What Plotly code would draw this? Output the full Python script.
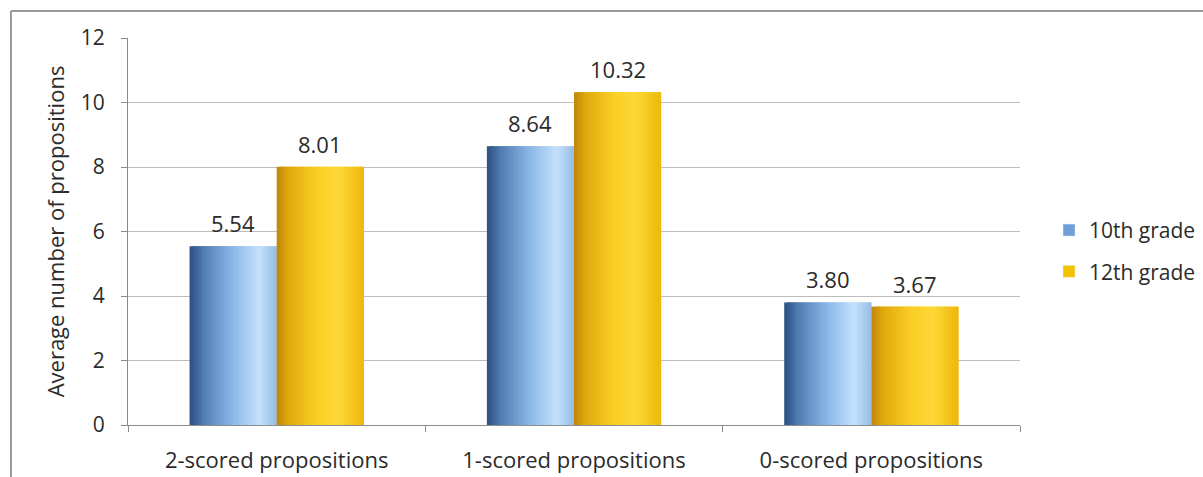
import plotly.graph_objects as go

categories = ["2-scored propositions", "1-scored propositions", "0-scored propositions"]
grade10 = [5.54, 8.64, 3.80]
grade12 = [8.01, 10.32, 3.67]
series_names = ["10th grade", "12th grade"]
y_ticks = [0, 2, 4, 6, 8, 10, 12]

FONT = "Open Sans"
TXT = "#2b2b2b"
BAR_W = 0.293
N = 30
PLOT_W = 1203 - 128 - 183

blue_stops = [(0.0, (42, 78, 126)), (0.15, (78, 122, 176)), (0.5, (140, 184, 232)),
              (0.8, (196, 225, 252)), (1.0, (150, 188, 228))]
yellow_stops = [(0.0, (190, 134, 12)), (0.12, (222, 166, 12)), (0.45, (249, 206, 36)),
                (0.7, (253, 216, 56)), (1.0, (238, 184, 10))]


def interp(stops, t):
    for (t0, c0), (t1, c1) in zip(stops[:-1], stops[1:]):
        if t0 <= t <= t1:
            f = (t - t0) / (t1 - t0) if t1 > t0 else 0
            c = [round(a + (b - a) * f) for a, b in zip(c0, c1)]
            return "rgb(%d,%d,%d)" % tuple(c)
    c = stops[-1][1]
    return "rgb(%d,%d,%d)" % c


fig = go.Figure()
w = BAR_W / N
for vals, stops, start in [(grade10, blue_stops, -BAR_W), (grade12, yellow_stops, 0.0)]:
    for i in range(N):
        t = (i + 0.5) / N
        width = w * 2 if i < N - 1 else w
        fig.add_trace(go.Bar(
            x=categories, y=vals, width=width, offset=start + i * w,
            marker=dict(color=interp(stops, t), line=dict(width=0)),
            showlegend=False, hoverinfo="skip"))

# legend entries
for k, (name, col) in enumerate(zip(series_names, ["#6f9fd8", "#f2c200"])):
    fig.add_trace(go.Bar(x=[None], y=[None], name=name, legendgroup=f"g{k}",
                         marker=dict(color=col)))

annotations = []
half_px = BAR_W / 2 * PLOT_W / len(categories)
for vals, sign in [(grade10, -1), (grade12, 1)]:
    for cat, v in zip(categories, vals):
        annotations.append(dict(
            x=cat, y=v, xref="x", yref="y", text=f"{v:.2f}", showarrow=False,
            xshift=sign * half_px, yshift=23,
            font=dict(family=FONT, size=22, color=TXT)))

fig.update_layout(
    width=1203, height=477,
    margin=dict(l=128, r=183, t=38, b=52, autoexpand=False),
    barmode="overlay",
    paper_bgcolor="white", plot_bgcolor="white",
    font=dict(family=FONT, size=21, color=TXT),
    legend=dict(x=0.872, y=0.474, xref="container", yref="container",
                xanchor="left", yanchor="middle",
                font=dict(family=FONT, size=21, color=TXT),
                itemwidth=30, tracegroupgap=11, bgcolor="rgba(0,0,0,0)"),
    annotations=annotations,
    shapes=[dict(type="line", xref="paper", yref="paper",
                 x0=-0.1312, x1=1.3, y0=1.07, y1=1.07,
                 line=dict(color="#9a9a9a", width=2)),
            dict(type="line", xref="paper", yref="paper",
                 x0=-0.1312, x1=-0.1312, y0=1.07, y1=-0.2,
                 line=dict(color="#9a9a9a", width=2))],
)
fig.update_xaxes(
    type="category", showgrid=False, showline=True, linecolor="#8c8c8c", linewidth=1,
    ticks="outside", tickson="boundaries", ticklen=6, tickcolor="#8c8c8c",
    tickfont=dict(family=FONT, size=22, color=TXT), ticklabelstandoff=16,
    range=[-0.5, 2.5], automargin=False)
fig.update_yaxes(
    range=[0, 12], tickvals=y_ticks, showgrid=True, gridcolor="#bcbcbc", gridwidth=1,
    showline=True, linecolor="#8c8c8c", linewidth=1, ticks="outside", ticklen=6,
    tickcolor="#8c8c8c", tickfont=dict(family=FONT, size=21, color=TXT),
    ticklabelstandoff=12, zeroline=False, automargin=False,
    title=dict(text="Average number of propositions", standoff=10,
               font=dict(family=FONT, size=22, color=TXT)))

fig.write_html("out.html")
